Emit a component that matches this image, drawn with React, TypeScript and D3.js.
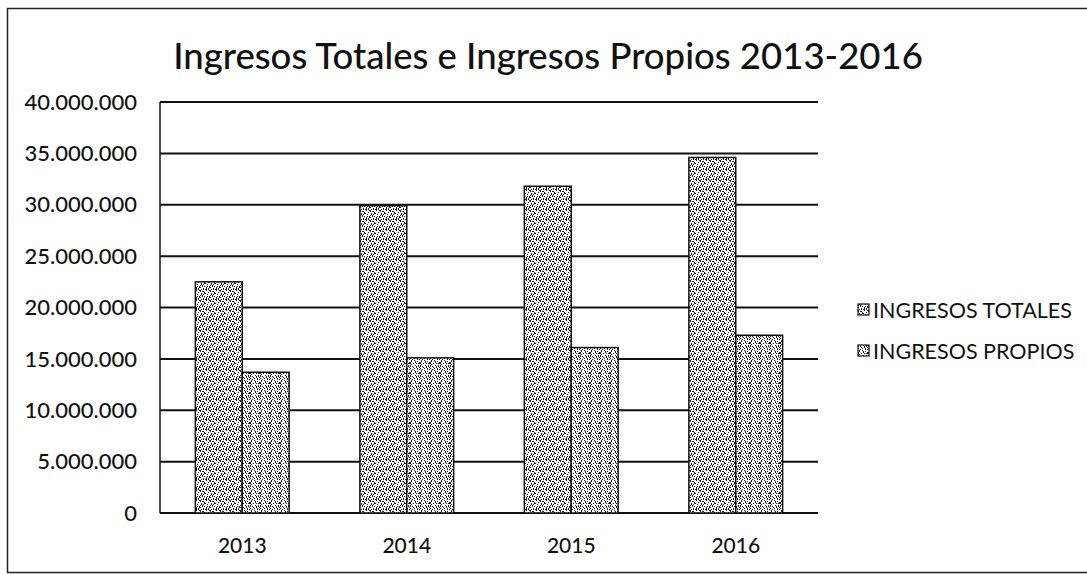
import React, { useEffect, useRef } from 'react';
import * as d3 from 'd3';

const years = ['2013', '2014', '2015', '2016'];
const seriesNames = ['INGRESOS TOTALES', 'INGRESOS PROPIOS'];
const ingresosTotales = [22500000, 29900000, 31800000, 34600000];
const ingresosPropios = [13700000, 15100000, 16100000, 17300000];
const yTicks = [0, 5000000, 10000000, 15000000, 20000000, 25000000, 30000000, 35000000, 40000000];

// speckle dots for the scanned-looking fill (tile coordinates)
const dotsA = [[0,0],[3,1],[6,0],[1,3],[5,3],[7,4],[2,5],[4,6],[0,7],[6,7],[3,4],[8,2],[9,6],[5,9],[1,9],[8,8],[2,1],[9,0],[4,2],[7,6],[0,5],[3,8],[6,9]];
const dotsB = [[1,0],[4,0],[7,1],[0,2],[3,3],[6,3],[9,2],[2,6],[5,5],[8,5],[0,8],[4,8],[7,8],[9,9],[2,9],[5,1],[8,3],[1,4],[6,6],[3,7],[9,7],[0,5]];

const App = () => {
	const ref = useRef(null);
	const width = 1087;
	const height = 575;

	useEffect(() => {
		if (!ref.current) return;
		const svg = d3.select(ref.current);
		svg.selectAll('*').remove();

		const m = { l: 160, r: 818, t: 102, b: 513 };
		const font = 'Lato, "Open Sans", sans-serif';

		const defs = svg.append('defs');
		[dotsA, dotsB].forEach((dots, i) => {
			const p = defs.append('pattern')
				.attr('id', `speck${i}`)
				.attr('patternUnits', 'userSpaceOnUse')
				.attr('width', 10)
				.attr('height', 10);
			p.append('rect').attr('width', 10).attr('height', 10).attr('fill', '#fff');
			p.selectAll('rect.d')
				.data(dots)
				.join('rect')
				.attr('class', 'd')
				.attr('x', d => d[0])
				.attr('y', d => d[1])
				.attr('width', 1)
				.attr('height', (d, j) => (j % 3 === 0 ? 2 : 1))
				.attr('fill', '#1a1a1a');
		});

		// outer frame
		svg.append('rect')
			.attr('x', 7.5).attr('y', 8.5)
			.attr('width', width + 10).attr('height', 564)
			.attr('fill', 'none').attr('stroke', '#222').attr('stroke-width', 1.5);

		svg.append('text')
			.attr('x', 548).attr('y', 69)
			.attr('text-anchor', 'middle')
			.style('font-family', font)
			.style('font-size', '36.5px')
			.style('font-weight', 500)
			.attr('fill', '#111')
			.text('Ingresos Totales e Ingresos Propios 2013-2016');

		const x = d3.scaleBand().domain(years).range([m.l, m.r]).paddingInner(0.43).paddingOuter(0.215);
		const xs = d3.scaleBand().domain(seriesNames).range([0, x.bandwidth()]);
		const y = d3.scaleLinear().domain([0, 40000000]).range([m.b, m.t]);
		const fmt = d3.formatLocale({ decimal: ',', thousands: '.', grouping: [3], currency: ['', ''] }).format(',');

		svg.append('g')
			.selectAll('line')
			.data(yTicks)
			.join('line')
			.attr('x1', m.l).attr('x2', m.r)
			.attr('y1', d => y(d)).attr('y2', d => y(d))
			.attr('stroke', '#111').attr('stroke-width', 2);

		svg.append('line')
			.attr('x1', m.l).attr('x2', m.l)
			.attr('y1', m.t).attr('y2', m.b)
			.attr('stroke', '#111').attr('stroke-width', 1.5);

		svg.append('g')
			.selectAll('text')
			.data(yTicks)
			.join('text')
			.attr('x', 137)
			.attr('y', d => y(d))
			.attr('dy', '0.35em')
			.attr('text-anchor', 'end')
			.style('font-family', font)
			.style('font-size', '22px')
			.style('font-weight', 500)
			.attr('fill', '#111')
			.text(d => fmt(d));

		const series = [ingresosTotales, ingresosPropios];
		series.forEach((vals, si) => {
			svg.append('g')
				.selectAll('rect')
				.data(vals)
				.join('rect')
				.attr('x', (d, i) => x(years[i]) + xs(seriesNames[si]))
				.attr('y', d => y(d))
				.attr('width', xs.bandwidth())
				.attr('height', d => y(0) - y(d))
				.attr('fill', `url(#speck${si})`)
				.attr('stroke', '#111')
				.attr('stroke-width', 1.5);
		});

		svg.append('g')
			.selectAll('text')
			.data(years)
			.join('text')
			.attr('x', d => x(d) + x.bandwidth() / 2)
			.attr('y', 553)
			.attr('text-anchor', 'middle')
			.style('font-family', font)
			.style('font-size', '21px')
			.style('font-weight', 500)
			.attr('fill', '#111')
			.text(d => d);

		const legend = svg.append('g').attr('transform', 'translate(858, 310)');
		legend.selectAll('rect')
			.data(seriesNames)
			.join('rect')
			.attr('x', 0)
			.attr('y', (d, i) => i * 41 - 6)
			.attr('width', 11).attr('height', 11)
			.attr('fill', (d, i) => `url(#speck${i})`)
			.attr('stroke', '#111').attr('stroke-width', 1.2);
		legend.selectAll('text')
			.data(seriesNames)
			.join('text')
			.attr('x', 15)
			.attr('y', (d, i) => i * 41)
			.attr('dy', '0.35em')
			.style('font-family', font)
			.style('font-size', '21.5px')
			.attr('fill', '#111')
			.text(d => d);
	}, []);

	return <svg ref={ref} width={width} height={height} style={{ position: 'absolute', left: 0, top: 0, background: '#fff' }} />;
};

export default App;
